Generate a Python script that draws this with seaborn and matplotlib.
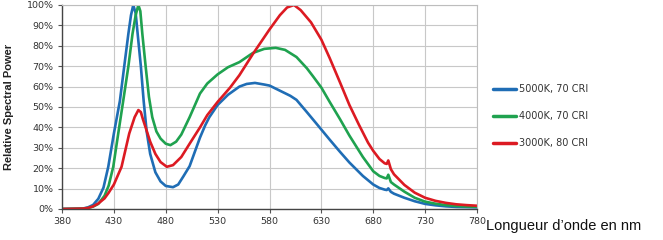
import matplotlib
matplotlib.use("Agg")
import matplotlib.pyplot as plt
import seaborn as sns
import pandas as pd

# ---- data (relative spectral power, %) ----
wl_5000 = [380, 400, 405, 410, 415, 420, 424.6, 430, 435.8, 440, 444, 446.5, 448.7, 451, 452.9,
           456, 458.7, 461.6, 465, 470, 475, 480, 487, 492, 497, 503, 508, 513, 518, 522, 530,
           540, 551, 558, 566, 575, 580, 590, 600, 606, 616, 625, 638, 648, 657, 670, 680,
           686, 691, 693, 694.5, 697, 700, 710, 720, 730, 740, 750, 760, 770, 780]
p_5000 = [0, 0.2, 0.8, 2, 5, 10.5, 20.7, 37, 53, 70, 86, 95, 100, 96, 86,
          70, 53, 38, 27, 18, 13.5, 11.3, 10.7, 12, 16, 21, 28, 35, 41, 45, 51,
          56, 60, 61.3, 61.8, 61, 60.5, 58, 55.5, 53.5, 47.5, 42, 34, 28, 22.8, 16.2, 12,
          10.3, 9.5, 9.3, 10.1, 8.4, 7.5, 5.5, 3.8, 2.5, 1.8, 1.3, 1.0, 0.9, 0.8]

wl_4000 = [380, 400, 405, 410, 415, 421, 425, 429.4, 434.2, 439, 444, 448, 451, 453.6, 455.5,
           457.4, 460.6, 463.8, 467, 471, 475, 480, 484.5, 490, 495, 503, 513, 520, 530, 540,
           551, 564, 575, 586, 595, 606, 616, 622, 630, 638, 648, 657, 670, 680, 686, 691,
           693, 694.5, 697, 700, 710, 720, 730, 740, 750, 760, 770, 780]
p_4000 = [0, 0.2, 0.5, 1.2, 2.5, 6.5, 11.5, 20.7, 37, 53, 70, 86, 95, 100, 97,
          86, 70, 55, 45, 38, 34.5, 32, 31.3, 33, 36.5, 45, 56.6, 61.5, 66, 69.5,
          72, 76.5, 78.5, 79, 78, 74.5, 69, 65, 59.5, 52.5, 44, 36, 25.5, 18.5, 16.2, 15.2,
          15, 16.8, 13.2, 12, 8.5, 5.5, 3.6, 2.6, 1.9, 1.5, 1.2, 1.1]

wl_3000 = [380, 400, 405, 410, 415, 421, 425, 430, 437.4, 444.8, 450, 453.6, 456, 458, 461.4,
           465, 470, 475, 481, 487, 495, 503, 513, 520, 530, 542, 551, 564, 580, 590, 597,
           603.6, 610, 620, 630, 638, 648, 657, 666, 670, 675, 680, 686, 691, 693, 694.5,
           697, 700, 710, 720, 730, 740, 750, 760, 770, 780]
p_3000 = [0, 0.2, 0.5, 1.3, 2.7, 5.2, 8, 12, 20.7, 37, 45, 48.5, 47.5, 44, 38.7,
          33, 27, 23, 20.7, 21.5, 25.5, 32, 40, 46, 52.5, 59.5, 65.6, 76, 88, 95, 98.8,
          100, 97.5, 91.5, 83, 74, 62, 51, 41.5, 37.5, 32.5, 28.5, 24.5, 22.4, 22.1, 23.8,
          19.5, 17, 11.8, 8, 5.5, 4, 3, 2.3, 1.9, 1.6]

series_labels = ["5000K, 70 CRI", "4000K, 70 CRI", "3000K, 80 CRI"]
series_colors = ["#1f6db5", "#1fa24f", "#dc1a22"]

x_ticks = [380, 430, 480, 530, 580, 630, 680, 730, 780]
y_ticks = [0, 10, 20, 30, 40, 50, 60, 70, 80, 90, 100]
y_ticklabels = [f"{v}%" for v in y_ticks]

frames = []
for lab, wl, p in zip(series_labels, [wl_5000, wl_4000, wl_3000], [p_5000, p_4000, p_3000]):
    frames.append(pd.DataFrame({"wl": wl, "p": p, "series": lab}))
df = pd.concat(frames, ignore_index=True)

sns.set_theme(style="whitegrid")
plt.rcParams["font.family"] = ["DejaVu Sans"]

fig = plt.figure(figsize=(6.63, 2.40), dpi=100)
ax = fig.add_axes([62 / 663, 1 - 209 / 240, (477 - 62) / 663, (209 - 5) / 240])

sns.lineplot(data=df, x="wl", y="p", hue="series", hue_order=series_labels,
             palette=series_colors, linewidth=1.9, ax=ax, legend=False, sort=False)

ax.set_xlim(380, 780)
ax.set_ylim(0, 100)
ax.set_xticks(x_ticks)
ax.set_xticklabels([str(t) for t in x_ticks], fontsize=6.8, color="#333333")
ax.set_yticks(y_ticks)
ax.set_yticklabels(y_ticklabels, fontsize=6.8, color="#333333")
ax.tick_params(axis="both", length=3, width=0.8, color="#555555", pad=3,
               bottom=True, left=True)
ax.grid(True, color="#c8c8c8", linewidth=0.8)
for side in ["top", "right"]:
    ax.spines[side].set_color("#bdbdbd")
    ax.spines[side].set_linewidth(0.8)
for side in ["left", "bottom"]:
    ax.spines[side].set_color("#444444")
    ax.spines[side].set_linewidth(1.0)
ax.set_xlabel("")
ax.set_ylabel("")

fig.text(9 / 663, 1 - 107 / 240, "Relative Spectral Power", rotation=90,
         ha="center", va="center", fontsize=8, fontweight="bold",
         family=["Liberation Sans", "DejaVu Sans"], color="#222222")

fig.text(486 / 663, 1 - 226 / 240, "Longueur d\u2019onde en nm", ha="left", va="center",
         fontsize=10.5, family=["Liberation Sans", "DejaVu Sans"], color="#111111")

handles = [plt.Line2D([], [], color=c, linewidth=2.5) for c in series_colors]
fig.legend(handles, series_labels, loc="upper left",
           bbox_to_anchor=(493 / 663, 1 - 84 / 240), frameon=False,
           fontsize=7, handlelength=2.4, handletextpad=0.25,
           labelspacing=1.75, borderaxespad=0, borderpad=0,
           labelcolor="#333333")

fig.savefig("out.png", dpi=100, facecolor="white")
